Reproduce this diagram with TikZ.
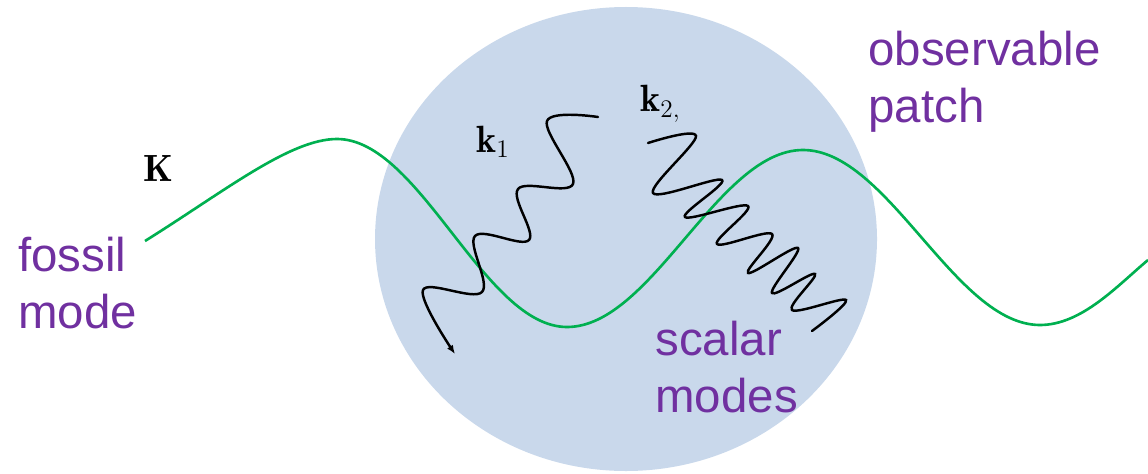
\documentclass[tikz,border=0pt]{standalone}
\usepackage{amsmath}
\usepackage{amssymb}
\usepackage{fontspec}
\usepackage{tikz}
\usetikzlibrary{arrows.meta}
\newfontfamily\labelfont{Liberation Sans}
\definecolor{patchblue}{RGB}{201,216,235}
\definecolor{fossilgreen}{RGB}{0,176,80}
\definecolor{labelpurple}{RGB}{112,48,160}

\begin{document}
\begin{tikzpicture}[x=0.02cm, y=-0.02cm,
		wave/.style={line width=1.4pt, black, line cap=round},
		purplelabel/.style={text=labelpurple, font=\labelfont\fontsize{27}{32}\selectfont, align=left, inner sep=0pt, anchor=base west},
		mathlabel/.style={font=\fontsize{21.6}{26}\selectfont, inner sep=0pt, anchor=base west}]
		\useasboundingbox (0,0) rectangle (1148,473);
		\fill[patchblue] (626,239) ellipse [x radius=251, y radius=232];
		\draw[line width=1.5pt, fossilgreen] (145,241) .. controls (225,191) and (290,139) .. (337,139)
			.. controls (420,139) and (484,327) .. (567,327)
			.. controls (652,327) and (718,150) .. (803,150)
			.. controls (888,150) and (955,325) .. (1040,325)
			.. controls (1082,325) and (1118,285) .. (1148,260);
		\draw[wave, -{Latex[length=5pt, width=4pt]}] plot[smooth, tension=0.6] coordinates {(598,117) (547,121) (573,184) (518,189) (529,240) (475,236) (482,292) (423,290) (455,354)};
		\draw[wave] plot[smooth, tension=0.6] coordinates {(648,143) (696,136) (653,193) (722,180) (685,217) (748,206) (717,244) (772,234) (748,273) (798,248) (772,293) (815,274) (792,310) (846,300) (812,331)};
		\node[mathlabel] (bigK) at (143,181) {$\mathbf{K}$};
		\node[mathlabel] (kone) at (476,152) {$\mathbf{k}_1$};
		\node[mathlabel] (ktwo) at (640,112) {$\mathbf{k}_{2,}$};
		\node[purplelabel] (fossil) at (18,328) {fossil\\mode};
		\node[purplelabel] (patch) at (868,122) {observable\\patch};
		\node[purplelabel] (scalar) at (655,412) {scalar\\modes};
	\end{tikzpicture}
\end{document}
